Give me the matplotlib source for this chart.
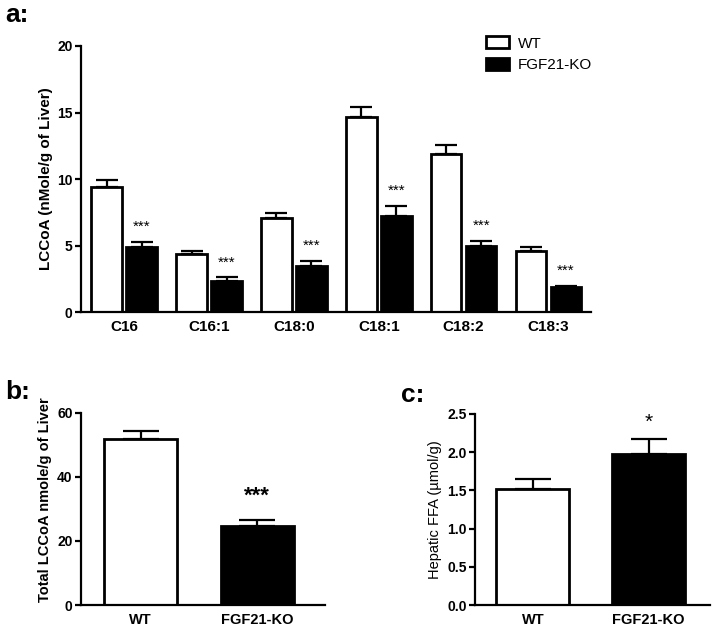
import matplotlib
matplotlib.use("Agg")
import matplotlib.pyplot as plt
import numpy as np
from matplotlib.patches import Patch

plt.rcParams['font.family'] = ['Liberation Sans', 'DejaVu Sans']

# panel a data
chains = ['C16', 'C16:1', 'C18:0', 'C18:1', 'C18:2', 'C18:3']
wt_mean = [9.4, 4.35, 7.05, 14.65, 11.85, 4.6]
wt_err = [0.55, 0.25, 0.4, 0.75, 0.7, 0.3]
ko_mean = [4.9, 2.3, 3.45, 7.2, 4.95, 1.85]
ko_err = [0.4, 0.3, 0.38, 0.8, 0.4, 0.12]
ko_stars = ['***'] * 6

# panel b data
groups = ['WT', 'FGF21-KO']
total_mean = [51.9, 24.6]
total_err = [2.5, 2.0]
total_stars = ['', '***']

# panel c data
ffa_mean = [1.52, 1.97]
ffa_err = [0.13, 0.2]
ffa_stars = ['', '*']

lw = 2.0
ekw = dict(elinewidth=1.6, capthick=1.6, ecolor='black')

def style(ax, xsize):
    for s in ['top', 'right']:
        ax.spines[s].set_visible(False)
    for s in ['left', 'bottom']:
        ax.spines[s].set_linewidth(1.6)
    ax.tick_params(axis='y', direction='out', length=4, width=1.6, labelsize=10, pad=2)
    ax.tick_params(axis='x', length=0, labelsize=xsize, pad=6)
    for t in ax.get_yticklabels():
        t.set_fontweight('bold')
    for t in ax.get_xticklabels():
        t.set_fontweight('bold')

fig = plt.figure(figsize=(7.14, 6.31), dpi=100)

# ---- a
ax1 = fig.add_axes([0.1134, 0.5055, 0.7143, 0.4216])
x = np.arange(len(chains))
w = 0.36
off = 0.206
ax1.bar(x - off, wt_mean, w, color='white', edgecolor='black', linewidth=lw,
        yerr=[np.zeros(6), wt_err], capsize=8, error_kw=ekw, zorder=2)
ax1.bar(x + off, ko_mean, w, color='black', edgecolor='black', linewidth=lw,
        yerr=[np.zeros(6), ko_err], capsize=8, error_kw=ekw, zorder=2)
for i in range(len(chains)):
    ax1.text(x[i] + off, ko_mean[i] + ko_err[i] + 0.6, ko_stars[i], ha='center',
             va='bottom', fontsize=11)
ax1.set_xlim(-0.51, 5.5)
ax1.set_ylim(0, 20)
ax1.set_yticks([0, 5, 10, 15, 20])
ax1.set_xticks(x)
ax1.set_xticklabels(chains)
ax1.set_ylabel('LCCoA (nMole/g of Liver)', fontsize=11, fontweight='bold', labelpad=3)
style(ax1, 11)
handles = [Patch(facecolor='white', edgecolor='black', linewidth=lw, label='WT'),
           Patch(facecolor='black', edgecolor='black', linewidth=lw, label='FGF21-KO')]
fig.legend(handles=handles, loc='upper left', bbox_to_anchor=(0.672, 0.952),
           frameon=False, fontsize=11, handlelength=1.5, handleheight=0.8,
           handletextpad=0.6, labelspacing=0.5, borderaxespad=0)
fig.text(0.008, 0.976, 'a:', fontsize=19, fontweight='bold', va='center')

# ---- b
ax2 = fig.add_axes([0.1134, 0.0412, 0.3418, 0.3043])
xb = np.arange(2)
ax2.bar(xb, total_mean, 0.63, color=['white', 'black'], edgecolor='black', linewidth=lw,
        yerr=[np.zeros(2), total_err], capsize=13, error_kw=ekw, zorder=2)
for i in range(2):
    ax2.text(xb[i], total_mean[i] + total_err[i] + 4, total_stars[i], ha='center',
             va='bottom', fontsize=16, fontweight='bold')
ax2.set_xlim(-0.51, 1.58)
ax2.set_ylim(0, 60)
ax2.set_yticks([0, 20, 40, 60])
ax2.set_xticks(xb)
ax2.set_xticklabels(groups)
ax2.set_ylabel('Total LCCoA nmole/g of Liver', fontsize=10.5, fontweight='bold', labelpad=4)
ax2.yaxis.label.set_y(0.55)
style(ax2, 10.5)
fig.text(0.008, 0.379, 'b:', fontsize=19, fontweight='bold', va='center')

# ---- c
ax3 = fig.add_axes([0.6653, 0.0412, 0.3291, 0.3027])
ax3.bar(xb, ffa_mean, 0.63, color=['white', 'black'], edgecolor='black', linewidth=lw,
        yerr=[np.zeros(2), ffa_err], capsize=13, error_kw=ekw, zorder=2)
for i in range(2):
    ax3.text(xb[i], ffa_mean[i] + ffa_err[i] + 0.1, ffa_stars[i], ha='center',
             va='bottom', fontsize=15)
ax3.set_xlim(-0.5, 1.53)
ax3.set_ylim(0, 2.5)
ax3.set_yticks([0, 0.5, 1.0, 1.5, 2.0, 2.5])
ax3.set_yticklabels(['0.0', '0.5', '1.0', '1.5', '2.0', '2.5'])
ax3.set_xticks(xb)
ax3.set_xticklabels(groups)
ax3.set_ylabel('Hepatic FFA (\u00b5mol/g)', fontsize=10.5, labelpad=4)
style(ax3, 10.5)
fig.text(0.562, 0.374, 'c:', fontsize=19, fontweight='bold', va='center')

fig.savefig('out.png', dpi=100)
